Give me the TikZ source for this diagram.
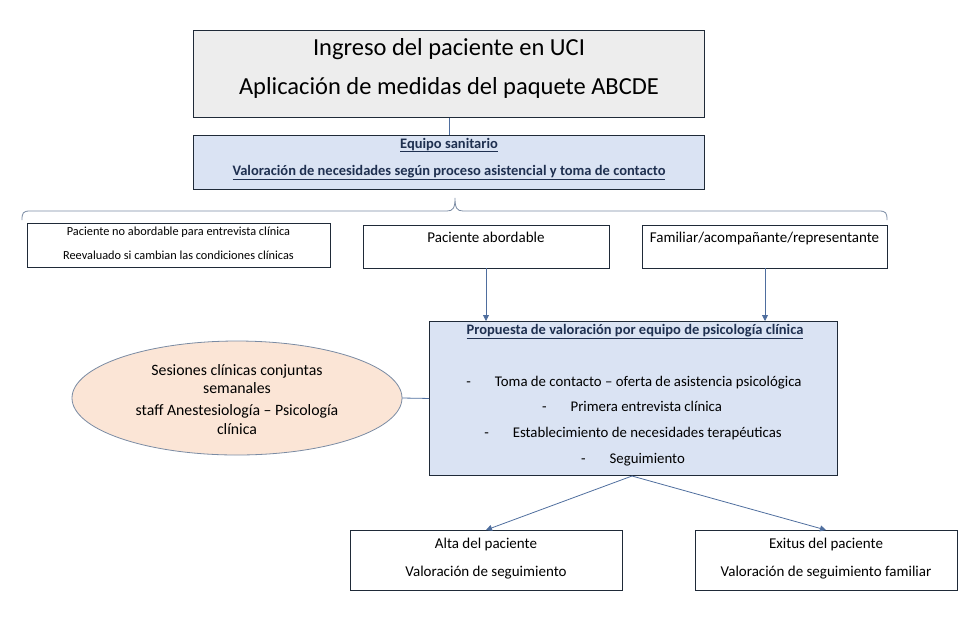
\documentclass[tikz,border=0pt]{standalone}
\usepackage{fontspec}
\setmainfont{Carlito}
\usetikzlibrary{arrows.meta}
\definecolor{bordc}{HTML}{1F2A38}
\definecolor{grayfill}{HTML}{EDEDED}
\definecolor{bluefill}{HTML}{DAE3F3}
\definecolor{peach}{HTML}{FBE5D6}
\definecolor{linec}{HTML}{4F6E9E}
\definecolor{bracec}{HTML}{7A8BA3}
\definecolor{titlec}{HTML}{1F3050}
\tikzset{
  box/.style={draw=bordc, line width=0.9pt, anchor=north west, inner sep=0pt},
  txt/.style={inner sep=0pt, anchor=base},
  conn/.style={draw=linec, line width=0.8pt},
  arr/.style={conn, -{Triangle[width=6pt,length=6pt]}},
  ultitle/.style={txt, font=\fontsize{14.5}{16}\selectfont\bfseries, text=titlec},
  itemtxt/.style={txt, font=\fontsize{14.8}{17}\selectfont},
  boxtxt/.style={txt, font=\fontsize{15}{17}\selectfont},
}
\newcommand{\ulx}[1]{\underline{#1}}
\begin{document}
\begin{tikzpicture}[x=1pt,y=-1pt]
\useasboundingbox (0,0) rectangle (976,625);
% top box
\node[box, fill=grayfill, minimum width=511pt, minimum height=87pt] (top) at (193,30) {};
\node[txt, font=\fontsize{24.5}{28}\selectfont] (t1) at (449,55) {Ingreso del paciente en UCI};
\node[txt, font=\fontsize{24.5}{28}\selectfont] (t2) at (449,94) {Aplicación de medidas del paquete ABCDE};
% equipo sanitario
\node[box, fill=bluefill, minimum width=511pt, minimum height=54pt] (eq) at (193,135) {};
\node[ultitle] (e1) at (449,148) {\ulx{Equipo sanitario}};
\node[ultitle] (e2) at (449,175) {\ulx{Valoración de necesidades según proceso asistencial y toma de contacto}};
\draw[conn] (top.south) -- (eq.north);
% brace
\coordinate (bc) at (455,198);
\draw[draw=bracec, line width=0.8pt] (22,220) .. controls (22,213) and (23,211) .. (30,211) -- (447,211) .. controls (453,211) and (455,208) .. (bc) .. controls (455,208) and (457,211) .. (463,211) -- (879,211) .. controls (886,211) and (887,213) .. (887,220);
% three boxes
\node[box, fill=white, minimum width=303pt, minimum height=44pt] (b1) at (27,223) {};
\node[txt, font=\fontsize{12.3}{14}\selectfont] (b1a) at (178.5,235) {Paciente no abordable para entrevista clínica};
\node[txt, font=\fontsize{12.3}{14}\selectfont] (b1b) at (178.5,259) {Reevaluado si cambian las condiciones clínicas};
\node[box, fill=white, minimum width=246pt, minimum height=43pt] (b2) at (363,225) {};
\node[boxtxt] (b2a) at (486,242) {Paciente abordable};
\node[box, fill=white, minimum width=245pt, minimum height=43pt] (b3) at (642,225) {};
\node[boxtxt] (b3a) at (764.5,242) {Familiar/acompañante/representante};
% big box
\node[box, fill=bluefill, minimum width=408pt, minimum height=154pt] (big) at (429,321) {};
\node[ultitle] (g0) at (635,334) {\ulx{Propuesta de valoración por equipo de psicología clínica}};
\node[itemtxt] (g1) at (634,386) {-\hspace{24pt}Toma de contacto – oferta de asistencia psicológica};
\node[itemtxt] (g2) at (632,411) {-\hspace{24pt}Primera entrevista clínica};
\node[itemtxt] (g3) at (633,437) {-\hspace{24pt}Establecimiento de necesidades terapéuticas};
\node[itemtxt] (g4) at (633,463) {-\hspace{24pt}Seguimiento};
\coordinate (b2arr) at (486,268);
\coordinate (b3arr) at (765,268);
\draw[arr] (b2arr) -- (486,321);
\draw[arr] (b3arr) -- (765,321);
% ellipse
\draw[draw=bracec, line width=0.8pt, fill=peach] (237,398) ellipse [x radius=165pt, y radius=57pt];
\coordinate (ellr) at (402,398);
\node[txt, font=\fontsize{15.8}{18}\selectfont] (l1) at (237,375) {Sesiones clínicas conjuntas};
\node[txt, font=\fontsize{15.8}{18}\selectfont] (l2) at (237,393) {semanales};
\node[txt, font=\fontsize{15.8}{18}\selectfont] (l3) at (237,415) {staff Anestesiología – Psicología};
\node[txt, font=\fontsize{15.8}{18}\selectfont] (l4) at (237,434) {clínica};
\draw[conn] (ellr) -- (big.west);
% bottom boxes
\node[box, fill=white, minimum width=272pt, minimum height=60pt] (alta) at (350,530) {};
\node[boxtxt] (a1) at (486,548) {Alta del paciente};
\node[boxtxt] (a2) at (486,576) {Valoración de seguimiento};
\node[box, fill=white, minimum width=262pt, minimum height=60pt] (exi) at (695,530) {};
\node[boxtxt] (x1) at (826,548) {Exitus del paciente};
\node[boxtxt] (x2) at (826,576) {Valoración de seguimiento familiar};
\coordinate (bigb) at (632,476);
\draw[arr] (bigb) -- (486,530);
\draw[arr] (bigb) -- (826,530);
\end{tikzpicture}
\end{document}
